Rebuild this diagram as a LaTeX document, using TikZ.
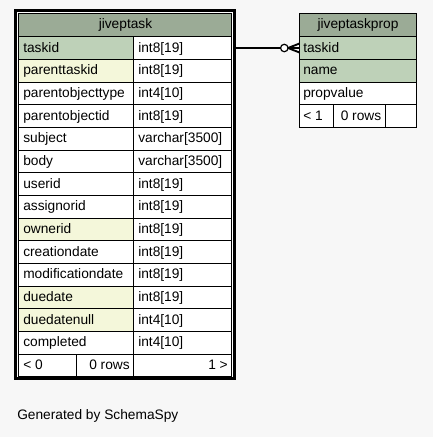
\documentclass[tikz,border=0pt]{standalone}
\usepackage{fontspec}
\setmainfont{Liberation Sans}
\usetikzlibrary{calc}
\definecolor{bggray}{HTML}{F7F7F7}
\definecolor{hdrgreen}{HTML}{9BAB96}
\definecolor{pkgreen}{HTML}{BED1B8}
\definecolor{idxyellow}{HTML}{F4F7DA}

\begin{document}
\begin{tikzpicture}[x=0.75pt,y=-0.75pt,
  cell/.style={draw=black,line width=0.75pt},
  txt/.style={anchor=west,inner sep=0pt,text height=7.4pt,text depth=1pt,font=\fontsize{10.3}{12}\selectfont},
  rtxt/.style={txt,anchor=east},
  ctxt/.style={txt,anchor=center}]

\fill[bggray] (0,0) rectangle (433,437); %background
\useasboundingbox (0,0) rectangle (433,437);

\draw[line width=2.2pt,fill=white] (15.3,10.2) rectangle (234.8,378.5); %jiveptask frame
\draw[cell,fill=hdrgreen] (19,13.3) rectangle (232,36.7); %jiveptask header
\node[ctxt] (tskhead) at (125.5,24.5) {jiveptask};

\draw[cell,fill=pkgreen] (19,36.7) rectangle (134,59.4); %jiveptask rows
\draw[cell] (134,36.7) rectangle (232,59.4);
\draw[cell,fill=idxyellow] (19,59.4) rectangle (134,82);
\draw[cell] (134,59.4) rectangle (232,82);
\draw[cell] (19,82) rectangle (134,104.7);
\draw[cell] (134,82) rectangle (232,104.7);
\draw[cell] (19,104.7) rectangle (134,127.4);
\draw[cell] (134,104.7) rectangle (232,127.4);
\draw[cell] (19,127.4) rectangle (134,150);
\draw[cell] (134,127.4) rectangle (232,150);
\draw[cell] (19,150) rectangle (134,172.7);
\draw[cell] (134,150) rectangle (232,172.7);
\draw[cell] (19,172.7) rectangle (134,195.4);
\draw[cell] (134,172.7) rectangle (232,195.4);
\draw[cell] (19,195.4) rectangle (134,218);
\draw[cell] (134,195.4) rectangle (232,218);
\draw[cell,fill=idxyellow] (19,218) rectangle (134,240.7);
\draw[cell] (134,218) rectangle (232,240.7);
\draw[cell] (19,240.7) rectangle (134,263.4);
\draw[cell] (134,240.7) rectangle (232,263.4);
\draw[cell] (19,263.4) rectangle (134,286);
\draw[cell] (134,263.4) rectangle (232,286);
\draw[cell,fill=idxyellow] (19,286) rectangle (134,308.7);
\draw[cell] (134,286) rectangle (232,308.7);
\draw[cell,fill=idxyellow] (19,308.7) rectangle (134,331.4);
\draw[cell] (134,308.7) rectangle (232,331.4);
\draw[cell] (19,331.4) rectangle (134,354);
\draw[cell] (134,331.4) rectangle (232,354);
\draw[cell] (19,354) rectangle (77,376.7); %jiveptask footer
\draw[cell] (77,354) rectangle (134,376.7);
\draw[cell] (134,354) rectangle (232,376.7);

\node[txt] (tsktaskid) at (23,48) {taskid}; %jiveptask contents
\node[txt] (tsktaskidt) at (138,48) {int8[19]};
\node[txt] (tskparent) at (23,70.7) {parenttaskid};
\node[txt] (tskparentt) at (138,70.7) {int8[19]};
\node[txt] (tskobjtype) at (23,93.4) {parentobjecttype};
\node[txt] (tskobjtypet) at (138,93.4) {int4[10]};
\node[txt] (tskobjid) at (23,116) {parentobjectid};
\node[txt] (tskobjidt) at (138,116) {int8[19]};
\node[txt] (tsksubject) at (23,138.7) {subject};
\node[txt] (tsksubjectt) at (138,138.7) {varchar[3500]};
\node[txt] (tskbody) at (23,161.4) {body};
\node[txt] (tskbodyt) at (138,161.4) {varchar[3500]};
\node[txt] (tskuser) at (23,184.1) {userid};
\node[txt] (tskusert) at (138,184.1) {int8[19]};
\node[txt] (tskassignor) at (23,206.7) {assignorid};
\node[txt] (tskassignort) at (138,206.7) {int8[19]};
\node[txt] (tskowner) at (23,229.4) {ownerid};
\node[txt] (tskownert) at (138,229.4) {int8[19]};
\node[txt] (tskcreated) at (23,252.1) {creationdate};
\node[txt] (tskcreatedt) at (138,252.1) {int8[19]};
\node[txt] (tskmodified) at (23,274.7) {modificationdate};
\node[txt] (tskmodifiedt) at (138,274.7) {int8[19]};
\node[txt] (tskdue) at (23,297.4) {duedate};
\node[txt] (tskduet) at (138,297.4) {int8[19]};
\node[txt] (tskduenull) at (23,320.1) {duedatenull};
\node[txt] (tskduenullt) at (138,320.1) {int4[10]};
\node[txt] (tskdone) at (23,342.7) {completed};
\node[txt] (tskdonet) at (138,342.7) {int4[10]};
\node[txt] (tskparents) at (23,365.4) {< 0};
\node[rtxt] (tskrows) at (130,365.4) {0 rows};
\node[rtxt] (tskchildren) at (228,365.4) {1 >};

\draw[cell,fill=hdrgreen] (299.5,13.3) rectangle (416.5,36.7); %jiveptaskprop header
\node[ctxt] (prophead) at (358,24.5) {jiveptaskprop};
\draw[cell,fill=pkgreen] (299.5,36.7) rectangle (416.5,59.4); %jiveptaskprop rows
\draw[cell,fill=pkgreen] (299.5,59.4) rectangle (416.5,82);
\draw[cell,fill=white] (299.5,82) rectangle (416.5,104.7);
\draw[cell,fill=white] (299.5,104.7) rectangle (333.3,127.4); %jiveptaskprop footer
\draw[cell,fill=white] (333.3,104.7) rectangle (385.3,127.4);
\draw[cell,fill=white] (385.3,104.7) rectangle (416.5,127.4);

\node[txt] (proptaskid) at (303,48) {taskid}; %jiveptaskprop contents
\node[txt] (propname) at (303,70.7) {name};
\node[txt] (propvalue) at (303,93.4) {propvalue};
\node[txt] (propparents) at (303,116) {< 1};
\node[rtxt] (proprows) at (381.5,116) {0 rows};

\coordinate (tskfk) at (235.5,48); %relationship
\coordinate (propfk) at (299.5,48);
\draw[line width=1.1pt] (tskfk) -- (propfk);
\draw[line width=0.9pt,fill=white] ($(propfk)+(-15.2,0)$) circle[radius=2.8pt];
\draw[line width=1.4pt] ($(propfk)+(-11.5,0)$) -- ($(propfk)+(0,-4.5)$);
\draw[line width=1.4pt] ($(propfk)+(-11.5,0)$) -- ($(propfk)+(0,4.5)$);

\node[txt] (generated) at (17,415) {Generated by SchemaSpy};
\end{tikzpicture}
\end{document}
